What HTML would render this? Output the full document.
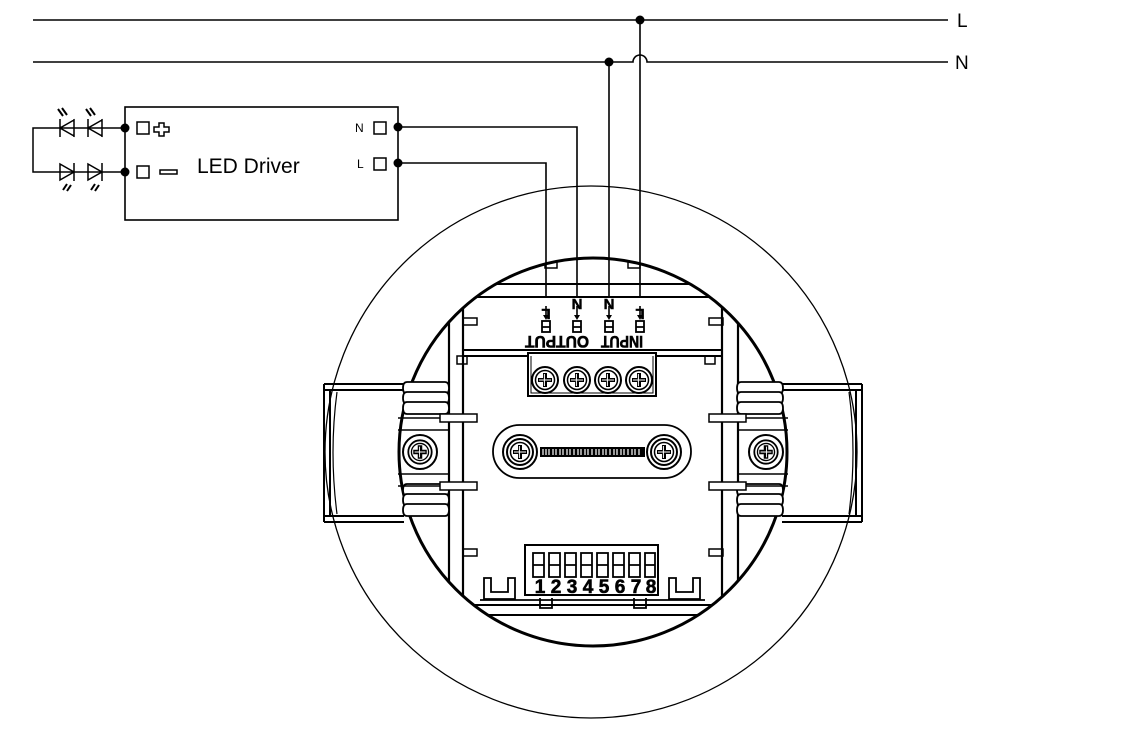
<!DOCTYPE html>
<html><head><meta charset="utf-8"><style>
html,body{margin:0;padding:0;background:#fff;width:1127px;height:743px;overflow:hidden}
svg{display:block}
text{font-family:"Liberation Sans",sans-serif}
</style></head><body>
<svg width="1127" height="743" viewBox="0 0 1127 743" xmlns="http://www.w3.org/2000/svg">
<defs>
<clipPath id="ic"><circle cx="593" cy="452" r="194"/></clipPath>
<g id="scr"><circle r="13" fill="#fff" stroke="#000" stroke-width="2"/><circle r="9.5" fill="none" stroke="#000" stroke-width="1.5"/><path d="M-2,-7h4v5h5v4h-5v5h-4v-5h-5v-4h5z" fill="#000"/><path d="M-0.6,-6v12M-6,0h12" stroke="#fff" stroke-width="1"/></g>
<g id="spring" fill="#fff" stroke="#000" stroke-width="1.8">
<path d="M0,4 q-4,0 -4,6 q0,6 4,6 h38 q4,0 4,-6 q0,-6 -4,-6z"/>
<path d="M0,14 q-4,0 -4,6 q0,6 4,6 h38 q4,0 4,-6 q0,-6 -4,-6z"/>
<path d="M0,24 q-4,0 -4,6 q0,6 4,6 h38 q4,0 4,-6 q0,-6 -4,-6z"/>
</g>
<g id="clamp" fill="none" stroke="#000">
<path d="M324,384 h80 M324,390 h80 M324,516 h80 M324,522 h80" stroke-width="2"/>
<path d="M324,384 v138 M330,390 v126" stroke-width="2"/>
<path d="M337,392 q-8,60 0,122" stroke-width="1.2"/>
<use href="#spring" transform="translate(407,378)"/>
<use href="#spring" transform="translate(407,480)"/>
<path d="M398,418 h50 M398,430 h50 M398,474 h50 M398,486 h50" stroke-width="1.5"/>
<circle cx="420" cy="452" r="17" fill="#fff" stroke-width="2"/>
<use href="#scr" transform="translate(420,452) scale(0.9)"/>
<path d="M440,414 h37 v8 h-37z M440,482 h37 v8 h-37z" stroke-width="1.5" fill="#fff"/>
<path d="M463,318 h14 v7 h-14z M463,549 h14 v7 h-14z" stroke-width="1.5"/>
</g>
</defs>

<circle cx="591" cy="452" r="266" fill="none" stroke="#000" stroke-width="1.3"/>
<circle cx="593" cy="452" r="194" fill="#fff" stroke="#000" stroke-width="3"/>
<g clip-path="url(#ic)" fill="none" stroke="#000">
<path d="M449,250 v420 M463,250 v420 M722,250 v420 M738,250 v420" stroke-width="2.2"/>
<path d="M449,310 l14,-12 M738,310 l-14,-12 M449,590 l14,12 M738,590 l-14,12" stroke-width="1.2"/>
<path d="M380,284 h430 M380,297 h430" stroke-width="2"/>
<path d="M463,350 h259 M463,356 h259" stroke-width="2"/>
<path d="M545,262 h12 v6 h-12z M628,262 h12 v6 h-12z" stroke-width="1.5"/>
<path d="M380,605 h430 M380,615 h430" stroke-width="2"/>
<path d="M420,610 l10,40 M766,610 l-10,40" stroke-width="1.2"/>
</g>
<path d="M457,356 h10 v8 h-10z M705,356 h10 v8 h-10z" fill="none" stroke="#000" stroke-width="1.5"/>

<use href="#clamp"/>
<use href="#clamp" transform="translate(1186,0) scale(-1,1)"/>

<rect x="528" y="353" width="128" height="43" fill="#fff" stroke="#000" stroke-width="2"/>
<path d="M531,356 v37 h122 v-37" fill="none" stroke="#000" stroke-width="1"/>
<use href="#scr" transform="translate(545,380)"/>
<use href="#scr" transform="translate(577,380)"/>
<use href="#scr" transform="translate(608,380)"/>
<use href="#scr" transform="translate(639,380)"/>

<rect x="493" y="425" width="198" height="53" rx="26.5" fill="#fff" stroke="#000" stroke-width="1.8"/>
<circle cx="520" cy="452" r="17" fill="none" stroke="#000" stroke-width="2"/>
<circle cx="664" cy="452" r="17" fill="none" stroke="#000" stroke-width="2"/>
<use href="#scr" transform="translate(520,452)"/>
<use href="#scr" transform="translate(664,452)"/>
<rect x="540" y="447" width="105" height="10" fill="#000"/>
<path d="M543,449v6 M546,449v6 M549,449v6 M553,449v6 M556,449v6 M560,449v6 M563,449v6 M567,449v6 M570,449v6 M574,449v6 M578,449v6 M581,449v6 M585,449v6 M588,449v6 M592,449v6 M596,449v6 M599,449v6 M603,449v6 M606,449v6 M610,449v6 M614,449v6 M617,449v6 M621,449v6 M624,449v6 M628,449v6 M632,449v6 M635,449v6 M639,449v6" stroke="#fff" stroke-width="1.2"/>

<rect x="525" y="545" width="133" height="50" fill="#fff" stroke="#000" stroke-width="2"/>
<g fill="none" stroke="#000" stroke-width="1.8">
<rect x="533" y="553" width="11" height="24"/><rect x="549" y="553" width="11" height="24"/><rect x="565" y="553" width="11" height="24"/><rect x="581" y="553" width="11" height="24"/><rect x="597" y="553" width="11" height="24"/><rect x="613" y="553" width="11" height="24"/><rect x="629" y="553" width="11" height="24"/><rect x="645" y="553" width="10" height="24"/>
<path d="M533,565h11M549,565h11M565,565h11M581,565h11M597,565h11M613,565h11M629,565h11M645,565h10"/>
<path d="M484,578 h7 v14 h17 v-14 h7 v21 h-31z M669,578 h7 v14 h17 v-14 h7 v21 h-31z"/>
<path d="M480,600 h225 M540,598 v10 h12 v-10 M634,598 v10 h12 v-10"/>
</g>
<g font-size="19" font-weight="bold" text-anchor="middle" stroke="#000" stroke-width="0.6">
<text x="540" y="593">1</text><text x="556" y="593">2</text><text x="572" y="593">3</text><text x="588" y="593">4</text><text x="604" y="593">5</text><text x="620" y="593">6</text><text x="636" y="593">7</text><text x="651" y="593">8</text>
</g>

<g fill="none" stroke="#000" stroke-width="1.6">
<path d="M33,20 H948"/>
<path d="M33,62 H633 a7,7 0 0 1 14,0 H948"/>
<path d="M640,20 V296"/>
<path d="M609,62 V296"/>
<path d="M397,127 H577 V296"/>
<path d="M397,163 H546 V296"/>
<path d="M546,306 V316 M577,306 V316 M609,306 V316 M640,306 V316"/>
</g>
<g fill="#000">
<circle cx="640" cy="20" r="4.5"/><circle cx="609" cy="62" r="4.5"/>
<path d="M543,315h6l-3,5z M574,315h6l-3,5z M606,315h6l-3,5z M637,315h6l-3,5z"/>
</g>
<g font-size="15" font-weight="bold" text-anchor="middle" stroke="#000" stroke-width="0.5">
<text transform="translate(546,298) scale(-1,-1)" x="0" y="-11">L</text>
<text x="577" y="309">N</text><text x="609" y="309">N</text>
<text transform="translate(640,298) scale(-1,-1)" x="0" y="-11">L</text>
</g>
<g fill="none" stroke="#000" stroke-width="1.8">
<rect x="542" y="321" width="8" height="11"/><rect x="573" y="321" width="8" height="11"/><rect x="605" y="321" width="8" height="11"/><rect x="636" y="321" width="8" height="11"/>
<path d="M542,327h8M573,327h8M605,327h8M636,327h8"/>
</g>
<g font-size="17" font-weight="bold" text-anchor="middle" stroke="#000" stroke-width="0.6">
<text transform="translate(557,336) scale(-1,-1)" x="0" y="0" textLength="64" lengthAdjust="spacingAndGlyphs">OUTPUT</text>
<text transform="translate(622,336) scale(-1,-1)" x="0" y="0" textLength="42" lengthAdjust="spacingAndGlyphs">INPUT</text>
</g>
<text x="957" y="27" font-size="19">L</text>
<text x="955" y="69" font-size="19">N</text>

<rect x="125" y="107" width="273" height="113" fill="none" stroke="#000" stroke-width="1.6"/>
<text x="197" y="173" font-size="21">LED Driver</text>
<g fill="none" stroke="#000" stroke-width="1.5">
<rect x="137" y="122" width="12" height="12"/><rect x="137" y="166" width="12" height="12"/>
<rect x="374" y="122" width="12" height="12"/><rect x="374" y="158" width="12" height="12"/>
<path d="M159,123 h5 v4 h5 v5 h-5 v4 h-5 v-4 h-5 v-5 h5z"/>
<rect x="160" y="170" width="17" height="4"/>
<path d="M125,128 H33 V172 H125"/>
<path d="M60,119 v18 M74,119 v18 M88,119 v18 M102,119 v18 M60,128 l14,-8 v16z M88,128 l14,-8 v16z" />
<path d="M74,163 v18 M102,163 v18 M60,164 l14,8 l-14,8z M88,164 l14,8 l-14,8z"/>
<path d="M63,116 l-5,-7 M67,115 l-5,-7 M91,116 l-5,-7 M95,115 l-5,-7 M67,184 l-4,6 M71,185 l-4,6 M95,184 l-4,6 M99,185 l-4,6" stroke-width="2"/>
</g>
<g fill="#000"><circle cx="125" cy="128" r="4.5"/><circle cx="125" cy="172" r="4.5"/><circle cx="398" cy="127" r="4.5"/><circle cx="398" cy="163" r="4.5"/></g>
<text x="355" y="132" font-size="12">N</text>
<text x="357" y="168" font-size="12">L</text>
</svg>
</body></html>
